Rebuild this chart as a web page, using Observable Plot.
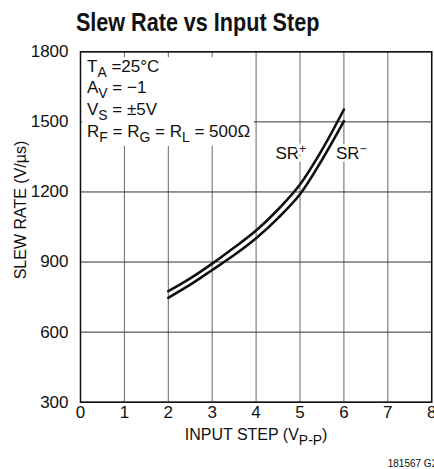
<!DOCTYPE html>
<html>
<head>
<meta charset="utf-8">
<script src="https://cdn.jsdelivr.net/npm/d3@7"></script>
<script src="https://cdn.jsdelivr.net/npm/@observablehq/plot@0.6"></script>
<style>
  html, body { margin: 0; padding: 0; background: #fff; overflow: hidden; }
  #title { width: 396px; height: 40px; line-height: 44px; text-align: center; white-space: nowrap; }
  #title span { display: inline-block; transform: scaleX(0.83); transform-origin: 50% 50%;
           font-family: "Liberation Sans", Arial, sans-serif;
           font-weight: bold; font-size: 26px; color: #111; }
</style>
</head>
<body>
<div id="title"><span>Slew Rate vs Input Step</span></div>
<div id="chart"></div>
<script>
const FONT = '"Liberation Sans", Arial, sans-serif';

// Data
const xTicks = [0, 1, 2, 3, 4, 5, 6, 7, 8];
const yTicks = [300, 600, 900, 1200, 1500, 1800];
const steps   = [2, 2.5, 3, 3.5, 4, 4.5, 5, 5.5, 6];
const srPlus  = [775, 830, 893, 962, 1035, 1125, 1232, 1380, 1553];
const srMinus = [747, 803, 866, 930, 1002, 1088, 1190, 1337, 1503];
const seriesLabels = ["SR^{+}", "SR^{−}"];
const seriesLabelX = [4.79, 6.17];
const seriesLabelY = [1366, 1366];
const conditions = ["T_{A} =25°C", "A_{V} = −1", "V_{S} = ±5V", "R_{F} = R_{G} = R_{L} = 500Ω"];
const noteBoxX = [0.05, 3.96];
const noteBoxY = [1395, 1775];

const rows = [
  ...steps.map((s, i) => ({step: s, sr: srPlus[i], series: "plus"})),
  ...steps.map((s, i) => ({step: s, sr: srMinus[i], series: "minus"}))
];
const labels = seriesLabels.map((t, i) => ({t, x: seriesLabelX[i], y: seriesLabelY[i]}));

const chart = Plot.plot({
  width: 434,
  height: 429,
  marginTop: 11.3,
  marginBottom: 67.3,
  marginLeft: 80,
  marginRight: 2.8,
  style: {fontFamily: FONT, fontSize: "17px", color: "#111", background: "#fff", overflow: "visible"},
  x: {domain: [0, 8]},
  y: {domain: [300, 1800]},
  marks: [
    Plot.gridX(xTicks, {stroke: "#666", strokeOpacity: 1, strokeWidth: 1}),
    Plot.gridY(yTicks, {stroke: "#333", strokeOpacity: 1, strokeWidth: 1}),
    Plot.rect([0], {x1: () => noteBoxX[0], x2: () => noteBoxX[1], y1: () => noteBoxY[0], y2: () => noteBoxY[1], fill: "white"}),
    Plot.frame({stroke: "#111", strokeWidth: 1.5}),
    Plot.axisX(xTicks, {tickSize: 0, tickPadding: 4, fontSize: 17, tickFormat: d3.format("d"), label: null}),
    Plot.axisY(yTicks, {tickSize: 0, tickPadding: 12, fontSize: 17, tickFormat: d3.format("d"), label: null}),
    Plot.line(rows, {x: "step", y: "sr", z: "series", stroke: "#111", strokeWidth: 2.6, curve: "catmull-rom"}),
    Plot.text(labels, {x: "x", y: "y", text: "t", fontSize: 17, stroke: "white", strokeWidth: 6, fill: "#111", lineAnchor: "middle"}),
    ...conditions.map((c, i) => Plot.text([c], {frameAnchor: "top-left", textAnchor: "start", lineAnchor: "middle", dx: 6.5, dy: 14.6 + i * 21.6, fontSize: 17, fill: "#111"})),
    Plot.text(["INPUT STEP (V_{P-P})"], {frameAnchor: "bottom", textAnchor: "middle", lineAnchor: "middle", dy: 33, fontSize: 16, fill: "#111"}),
    Plot.text(["SLEW RATE (V/µs)"], {frameAnchor: "left", textAnchor: "middle", rotate: -90, lineAnchor: "middle", dx: -60, dy: -17, fontSize: 16, fill: "#111"}),
    Plot.text(["181567 G25"], {frameAnchor: "bottom-right", textAnchor: "start", lineAnchor: "middle", dx: -44, dy: 61.8, fontSize: 10, fill: "#111"})
  ]
});

// Turn _{..} and ^{..} markup into real sub/superscript tspans
function richify(svg) {
  d3.select(svg).selectAll("text").each(function () {
    const t = this.textContent;
    if (!/[_^]\{/.test(t)) return;
    const base = parseFloat(this.getAttribute("font-size")) || 17;
    const el = d3.select(this);
    el.text(null);
    const re = /([_^])\{([^}]*)\}/g;
    let last = 0, m, shift = 0;
    while ((m = re.exec(t))) {
      if (m.index > last) {
        el.append("tspan").attr("dy", shift ? -shift : null).text(t.slice(last, m.index));
        shift = 0;
      }
      const s = m[1] === "_" ? 5 : -6;
      el.append("tspan").attr("dy", s - shift).attr("font-size", m[1] === "_" ? base * 0.82 : base * 0.72).text(m[2]);
      shift = s;
      last = re.lastIndex;
    }
    if (last < t.length) el.append("tspan").attr("dy", shift ? -shift : null).text(t.slice(last));
  });
}
richify(chart);
document.getElementById("chart").appendChild(chart);
</script>
</body>
</html>
